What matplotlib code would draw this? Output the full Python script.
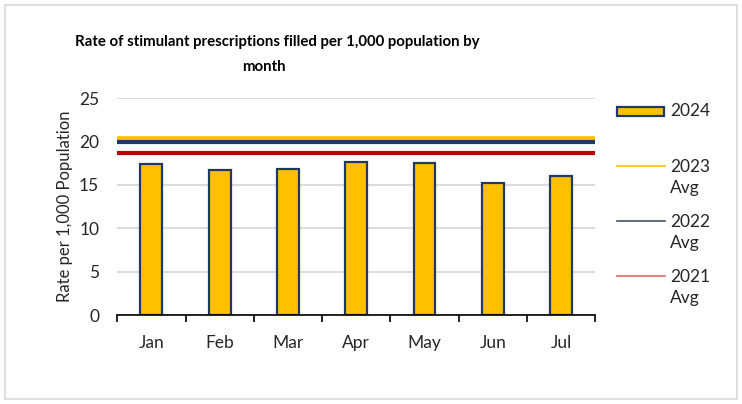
import matplotlib
matplotlib.use("Agg")
import matplotlib.pyplot as plt
from matplotlib.lines import Line2D
from matplotlib.patches import Rectangle
import numpy as np

months = ["Jan", "Feb", "Mar", "Apr", "May", "Jun", "Jul"]
rate_2024 = [17.4, 16.7, 16.8, 17.6, 17.5, 15.2, 16.0]
avg_2023 = 20.4
avg_2022 = 19.9
avg_2021 = 18.7
yticks = [0, 5, 10, 15, 20, 25]

plt.rcParams['font.family'] = ['Lato', 'DejaVu Sans']

fig = plt.figure(figsize=(7.42, 4.04), dpi=100)
fig.patches.append(Rectangle((0.007, 0.012), 0.986, 0.976, transform=fig.transFigure,
                             fill=False, edgecolor="#D9D9D9", linewidth=1.2))
ax = fig.add_axes([0.158, 0.220, 0.644, 0.537])

x = np.arange(len(months))
ax.set_axisbelow(True)
ax.yaxis.grid(True, color="#D9D9D9", linewidth=1.3)
ax.bar(x, rate_2024, width=0.32, color="#FFC000", edgecolor="#203864", linewidth=1.6, zorder=2)
ax.axhline(avg_2023, color="#FFC000", linewidth=3.4, zorder=3)
ax.axhline(avg_2022, color="#203864", linewidth=3.0, zorder=3)
ax.axhline(avg_2021, color="#C00000", linewidth=3.0, zorder=3)

ax.set_xlim(-0.5, len(months) - 0.5)
ax.set_ylim(0, 25)
ax.set_yticks(yticks)
ax.set_xticks(x)
ax.set_xticklabels(months)
ax.set_xticks(np.arange(-0.5, len(months), 1.0), minor=True)
ax.tick_params(axis='x', which='major', length=0, pad=14, labelsize=12.5, colors="#262626")
ax.tick_params(axis='x', which='minor', length=5, width=1.2, color="black")
ax.tick_params(axis='y', length=0, pad=13, labelsize=12.5, colors="#262626")
for s in ["top", "right", "left"]:
    ax.spines[s].set_visible(False)
ax.spines["bottom"].set_color("black")
ax.spines["bottom"].set_linewidth(1.2)

ax.set_ylabel("Rate per 1,000 Population", fontsize=12, color="#262626", labelpad=4)

fig.text(0.373, 0.897, "Rate of stimulant prescriptions filled per 1,000 population by",
         ha="center", va="center", fontsize=10.8, fontweight="bold", color="black")
fig.text(0.356, 0.834, "month", ha="center", va="center", fontsize=10.8,
         fontweight="bold", color="black")

# legend (manual layout in figure coordinates)
W, H = 742.0, 404.0
hx0, hx1, tx = 617 / W, 665 / W, 670 / W
fig.patches.append(Rectangle((hx0, 1 - 116 / H), hx1 - hx0 - 1 / W, 9 / H, transform=fig.transFigure,
                             facecolor="#FFC000", edgecolor="#203864", linewidth=1.6))
fig.text(tx, 1 - 111 / H, "2024", ha="left", va="center", fontsize=12.5, color="#262626")
leg_labels = ["2023", "2022", "2021"]
leg_colors = ["#FFC000", "#44546A", "#E06666"]
leg_y = [166, 221, 276]
for lab, col, yy in zip(leg_labels, leg_colors, leg_y):
    fig.add_artist(Line2D([hx0, hx1], [1 - yy / H, 1 - yy / H], transform=fig.transFigure,
                          color=col, linewidth=1.2))
    fig.text(tx, 1 - (yy + 1) / H, lab, ha="left", va="center", fontsize=12.5, color="#262626")
    fig.text(tx, 1 - (yy + 22) / H, "Avg", ha="left", va="center", fontsize=12.5, color="#262626")

fig.savefig("out.png", dpi=100)
